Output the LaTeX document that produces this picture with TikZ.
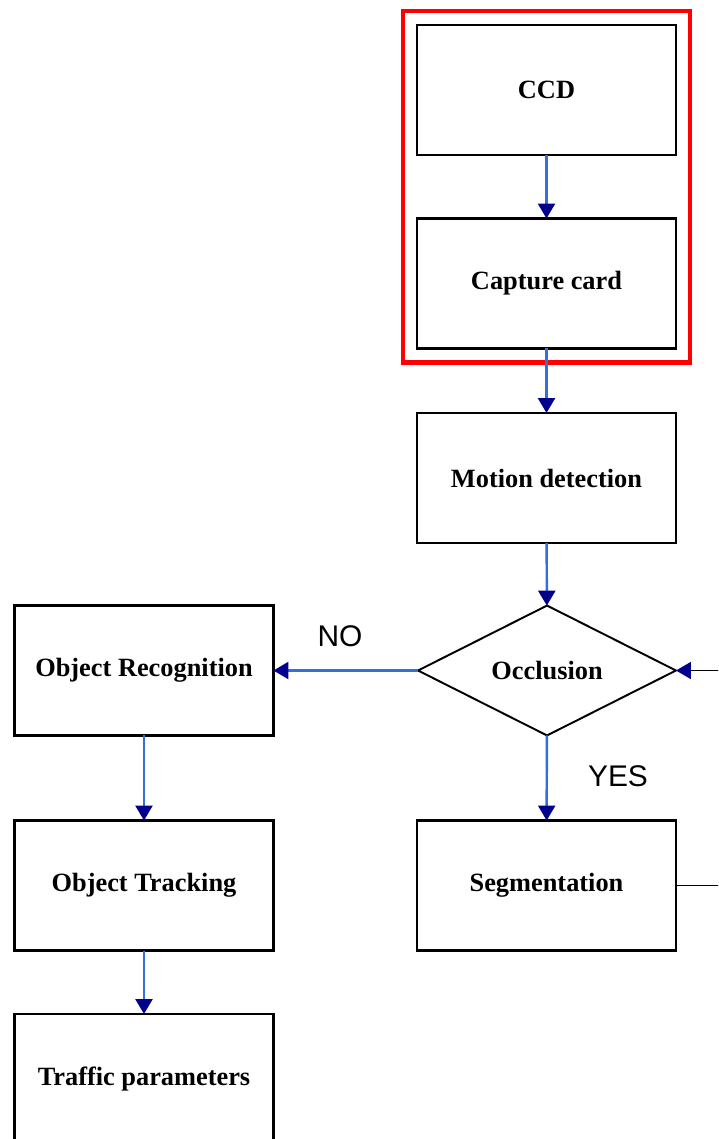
\documentclass[tikz,border=0pt]{standalone}
\usepackage{xcolor}
\usepackage{fontspec}
\setmainfont{Liberation Serif}
\newfontfamily\answerfont{Liberation Sans}
\usepackage{tikz}
\usetikzlibrary{shapes.geometric, arrows.meta, positioning, fit, calc}

\definecolor{linkblue}{HTML}{2F6FE0}
\definecolor{tipblue}{HTML}{00008E}

\begin{document}
\begin{tikzpicture}[x=0.02cm, y=-0.02cm,
    block/.style={rectangle, draw=black, line width=1.5pt, minimum width=5.18cm, minimum height=2.6cm, outer sep=0pt, align=center, font=\fontsize{15}{18}\selectfont\bfseries},
    decision/.style={diamond, draw=black, line width=1.1pt, minimum width=5.16cm, minimum height=2.58cm, inner sep=0pt, outer sep=0pt, font=\fontsize{15}{18}\selectfont\bfseries},
    arrow/.style={-{Triangle[length=0.3cm, width=0.34cm, color=tipblue]}, linkblue, line width=1.4pt},
    feedback/.style={-{Triangle[length=0.3cm, width=0.34cm, color=tipblue]}, black, line width=1pt},
    frame/.style={rectangle, draw=red, line width=2.4pt, inner sep=0.28cm},
    answer/.style={font=\answerfont\fontsize{17}{20}\selectfont}
]

\useasboundingbox (0,0) rectangle (718,1139);
\clip (0,0) rectangle (718,1139);

% Main column
\node[block] (ccd) at (546.5, 90) {CCD};
\node[block] (capture) at (546.5, 283.5) {Capture card};
\node[block] (motion) at (546.5, 478) {Motion detection};
\node[decision] (occlusion) at (547, 670.5) {Occlusion};
\node[block] (segment) at (546.5, 885.5) {Segmentation};

% Left column
\node[block] (recog) at (144, 670.5) {Object Recognition};
\node[block] (tracking) at (144, 885.5) {Object Tracking};
\node[block] (traffic) at (144, 1079) {Traffic parameters};

% Camera frame
\node[frame, fit=(ccd)(capture)] (camera) {};

% Answers
\node[answer] (no) at (340, 636) {NO};
\node[answer] (yes) at (618, 776) {YES};

% Connectors
\draw[arrow] (ccd) -- (capture);
\draw[arrow] (capture) -- (motion);
\draw[arrow] (motion) -- (occlusion);
\draw[arrow] (occlusion) -- (recog);
\draw[arrow] (occlusion) -- (segment);
\draw[arrow] (recog) -- (tracking);
\draw[arrow] (tracking) -- (traffic);
\draw[feedback] (segment.east) -- ++(80,0) |- (occlusion.east);

\end{tikzpicture}
\end{document}
